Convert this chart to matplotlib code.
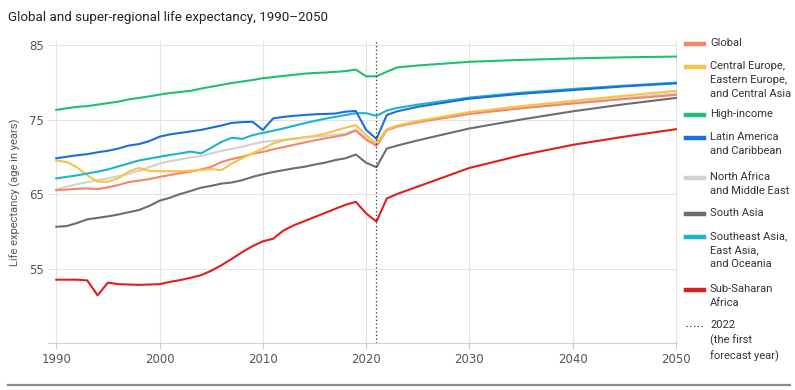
import matplotlib
matplotlib.use("Agg")
import matplotlib.pyplot as plt
from matplotlib.lines import Line2D

plt.rcParams['font.family'] = ['Roboto', 'DejaVu Sans']

years = list(range(1990, 2024)) + [2025, 2030, 2035, 2040, 2045, 2050]

global_le = [65.5, 65.6, 65.7, 65.75, 65.65, 65.9, 66.2, 66.6, 66.8, 67.0,
             67.3, 67.55, 67.8, 68.0, 68.3, 68.65, 69.3, 69.7, 70.0, 70.4,
             70.65, 71.0, 71.3, 71.6, 71.9, 72.2, 72.45, 72.7, 72.95, 73.5,
             72.3, 71.5, 73.6, 74.1, 74.65, 75.75, 76.5, 77.15, 77.75, 78.3]
central_eu = [69.5, 69.3, 68.6, 67.5, 66.65, 66.65, 67.1, 68.0, 68.5, 68.1,
              68.05, 68.05, 68.05, 68.15, 68.2, 68.35, 68.2, 69.1, 69.8, 70.45,
              71.1, 71.8, 72.2, 72.4, 72.6, 72.8, 73.1, 73.5, 73.9, 74.25,
              72.9, 71.8, 73.7, 74.2, 74.8, 76.0, 76.8, 77.5, 78.2, 78.85]
high_income = [76.3, 76.5, 76.7, 76.8, 77.0, 77.2, 77.4, 77.7, 77.9, 78.1,
               78.35, 78.55, 78.7, 78.85, 79.15, 79.4, 79.65, 79.9, 80.1, 80.3,
               80.55, 80.7, 80.85, 81.0, 81.15, 81.25, 81.3, 81.4, 81.5, 81.7,
               80.8, 80.8, 81.4, 82.0, 82.25, 82.75, 83.0, 83.2, 83.35, 83.45]
latin_am = [69.8, 70.0, 70.2, 70.35, 70.6, 70.8, 71.1, 71.5, 71.7, 72.1,
            72.7, 73.0, 73.2, 73.4, 73.6, 73.9, 74.2, 74.55, 74.65, 74.7,
            73.6, 75.15, 75.35, 75.5, 75.6, 75.7, 75.75, 75.8, 76.05, 76.15,
            73.6, 72.4, 75.6, 76.1, 76.7, 77.8, 78.45, 78.95, 79.45, 79.85]
n_africa = [65.6, 66.0, 66.3, 66.6, 66.85, 67.1, 67.4, 67.7, 68.1, 68.6,
            69.1, 69.4, 69.65, 69.9, 70.1, 70.45, 70.8, 71.05, 71.35, 71.7,
            72.0, 72.15, 72.3, 72.45, 72.6, 72.7, 72.8, 72.95, 73.1, 73.65,
            72.5, 71.4, 73.5, 74.0, 74.6, 75.8, 76.6, 77.3, 77.95, 78.5]
south_asia = [60.6, 60.7, 61.1, 61.6, 61.8, 62.0, 62.25, 62.55, 62.85, 63.4,
              64.1, 64.5, 65.0, 65.4, 65.85, 66.1, 66.4, 66.55, 66.85, 67.3,
              67.65, 67.95, 68.2, 68.45, 68.65, 68.95, 69.2, 69.55, 69.8, 70.3,
              69.2, 68.6, 71.1, 71.5, 72.2, 73.8, 75.0, 76.1, 77.05, 77.9]
se_asia = [67.1, 67.3, 67.5, 67.75, 68.0, 68.3, 68.7, 69.1, 69.5, 69.75,
           70.0, 70.25, 70.45, 70.7, 70.45, 71.2, 72.0, 72.55, 72.4, 72.9,
           73.2, 73.5, 73.8, 74.15, 74.5, 74.8, 75.1, 75.35, 75.6, 75.85,
           75.85, 75.5, 76.2, 76.55, 77.0, 77.95, 78.6, 79.1, 79.55, 79.95]
ss_africa = [53.5, 53.5, 53.5, 53.4, 51.4, 53.1, 52.9, 52.85, 52.8, 52.85,
             52.9, 53.2, 53.45, 53.75, 54.1, 54.7, 55.45, 56.3, 57.2, 58.0,
             58.65, 59.0, 60.1, 60.8, 61.35, 61.9, 62.45, 63.0, 63.55, 63.95,
             62.4, 61.3, 64.4, 65.0, 66.0, 68.5, 70.2, 71.6, 72.7, 73.7]

series = [
    ("Global", global_le, "#f2876a"),
    ("Central Europe,\nEastern Europe,\nand Central Asia", central_eu, "#f6c445"),
    ("High-income", high_income, "#1fbf74"),
    ("Latin America\nand Caribbean", latin_am, "#1b6fdb"),
    ("North Africa\nand Middle East", n_africa, "#d2d2d2"),
    ("South Asia", south_asia, "#6d6d6d"),
    ("Southeast Asia,\nEast Asia,\nand Oceania", se_asia, "#1bb4c9"),
    ("Sub-Saharan\nAfrica", ss_africa, "#de1f1f"),
]
forecast_year = 2021

fig = plt.figure(figsize=(7.95, 3.9), dpi=100)
ax = fig.add_axes([0.0604, 0.1205, 0.7912, 0.7736])

draw_order = [4, 0, 1, 5, 2, 6, 3, 7]
for i in draw_order:
    name, vals, col = series[i]
    ax.plot(years, vals, color=col, lw=1.5, solid_joinstyle='round')

ax.axvline(forecast_year, color="#333333", ls=(0, (1, 2)), lw=0.9)

ax.set_xlim(1989.2, 2050.1)
ax.set_ylim(45, 85.5)
ax.set_xticks(range(1990, 2051, 10))
ax.set_yticks([55, 65, 75, 85])
ax.grid(True, color="#e3e3e3", lw=0.8)
ax.set_axisbelow(True)
for s in ["top", "right", "left"]:
    ax.spines[s].set_visible(False)
ax.spines["bottom"].set_color("#cfcfcf")
ax.tick_params(axis='x', length=4, color="#cfcfcf", pad=3, labelsize=8.5,
               labelcolor="#555555")
ax.tick_params(axis='y', length=0, pad=3, labelsize=8.5, labelcolor="#555555")
for lab in ax.get_xticklabels() + ax.get_yticklabels():
    lab.set_family(['Liberation Sans Narrow', 'DejaVu Sans'])
ax.set_ylabel("Life expectancy (age in years)", fontsize=8, color="#555555",
              labelpad=6)

fig.text(0.01, 0.955, "Global and super-regional life expectancy, 1990\u20132050",
         fontsize=9.6, color="#222222", va='center', ha='left')

# legend
leg_y = [44, 67, 115, 138, 178, 214, 237, 290]
for (name, vals, col), py in zip(series, leg_y):
    yf = 1 - py / 390
    fig.add_artist(Line2D([686 / 795, 704 / 795], [yf, yf], color=col, lw=3.2,
                          transform=fig.transFigure))
    fig.text(710 / 795, yf + 6 / 390, name, fontsize=8, color="#333333",
             va='top', ha='left', linespacing=1.5)
yf = 1 - 326 / 390
fig.add_artist(Line2D([686 / 795, 704 / 795], [yf, yf], color="#333333", lw=0.9,
                      ls=(0, (1, 2)), transform=fig.transFigure))
fig.text(710 / 795, yf + 6 / 390, "2022\n(the first\nforecast year)", fontsize=8,
         color="#333333", va='top', ha='left', linespacing=1.5)

fig.add_artist(Line2D([8 / 795, 790 / 795], [1 - 385 / 390, 1 - 385 / 390],
                      color="#8a8a8a", lw=1.6, transform=fig.transFigure))

fig.savefig("out.png", dpi=100)
